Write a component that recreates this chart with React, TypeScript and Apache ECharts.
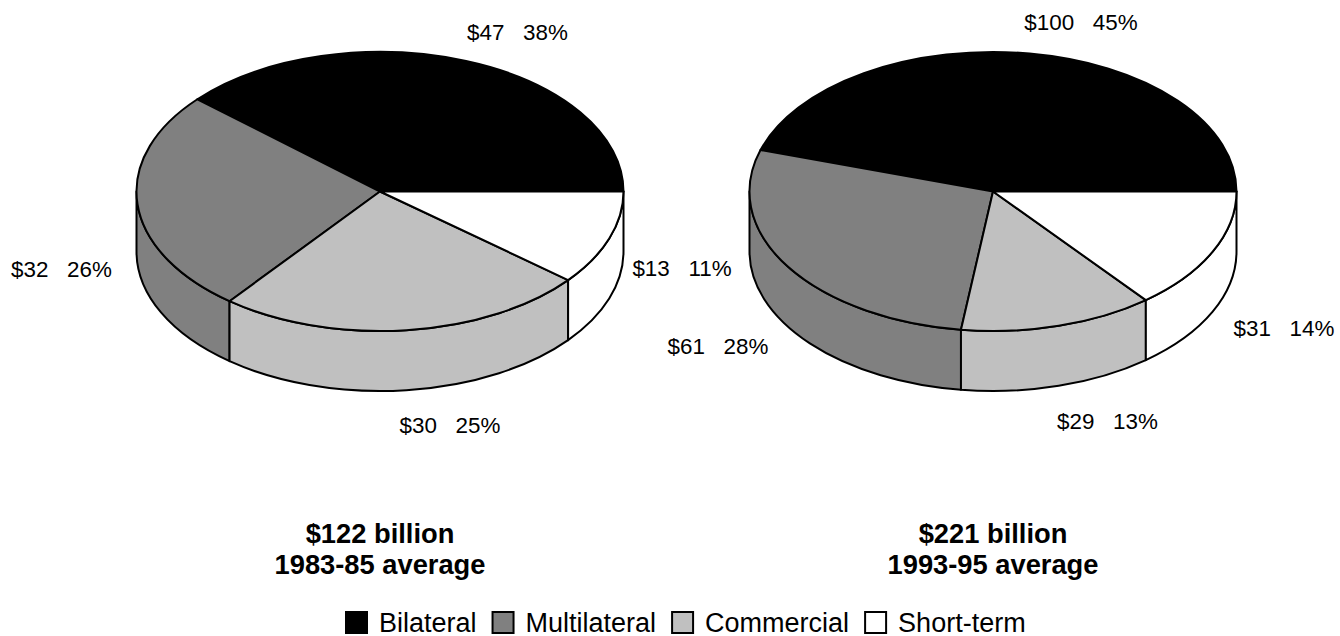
import React, { useEffect, useRef } from "react";
import * as echarts from "echarts";

const categories = ["Bilateral", "Multilateral", "Commercial", "Short-term"];
const colors = ["#000000", "#808080", "#c0c0c0", "#ffffff"];
const values1985 = [47, 32, 30, 13];
const values1995 = [100, 61, 29, 31];
const percents1985 = [38, 26, 25, 11];
const percents1995 = [45, 28, 13, 14];
const shares1985 = [38.5, 25.9, 24.65, 10.95];
const shares1995 = [45.2, 27.7, 12.9, 14.2];
const titles = ["$122 billion\n1983-85 average", "$221 billion\n1993-95 average"];
const pieValues = [values1985, values1995];
const pieShares = [shares1985, shares1995];
const piePercents = [percents1985, percents1995];

const FONT = '"Liberation Sans", Arial, sans-serif';
const RX = 243.5;
const RY = 139.5;
const DEPTH = 60;
const CENTERS = [[380, 191.5], [993, 191.5]];
const LABEL_POS = [
  [[517.5, 32], [61.5, 269], [450, 425], [682, 268]],
  [[1081, 22], [718, 346], [1107.5, 421], [1284, 328]],
];
const TITLE_X = [380, 993];

function pt(cx: number, cy: number, t: number) {
  return [cx + RX * Math.cos(t), cy - RY * Math.sin(t)];
}

function sectorPath(cx: number, cy: number, a0: number, a1: number) {
  const p0 = pt(cx, cy, a0);
  const p1 = pt(cx, cy, a1);
  const large = a1 - a0 > Math.PI ? 1 : 0;
  return `M${cx} ${cy}L${p0[0]} ${p0[1]}A${RX} ${RY} 0 ${large} 0 ${p1[0]} ${p1[1]}Z`;
}

function sidePath(cx: number, cy: number, a0: number, a1: number) {
  const s = Math.max(a0, Math.PI);
  const e = Math.min(a1, 2 * Math.PI);
  if (e <= s) return null;
  const p0 = pt(cx, cy, s);
  const p1 = pt(cx, cy, e);
  const large = e - s > Math.PI ? 1 : 0;
  return (
    `M${p0[0]} ${p0[1]}A${RX} ${RY} 0 ${large} 0 ${p1[0]} ${p1[1]}` +
    `L${p1[0]} ${p1[1] + DEPTH}A${RX} ${RY} 0 ${large} 1 ${p0[0]} ${p0[1] + DEPTH}Z`
  );
}

function buildSeries() {
  return categories.map((name, ci) => ({
    type: "custom",
    name,
    coordinateSystem: "none",
    silent: true,
    itemStyle: { color: colors[ci], borderColor: "#000", borderWidth: 2 },
    data: pieShares.map((vals, pi) => {
      const before = vals.slice(0, ci).reduce((a, b) => a + b, 0);
      const total = vals.reduce((a, b) => a + b, 0);
      return [pi, before / total, (before + vals[ci]) / total];
    }),
    renderItem: (_p: any, api: any) => {
      const [cx, cy] = CENTERS[api.value(0)];
      const a0 = api.value(1) * 2 * Math.PI;
      const a1 = api.value(2) * 2 * Math.PI;
      const style = { fill: colors[ci], stroke: "#000", lineWidth: 2, lineJoin: "round" };
      const children: any[] = [];
      const side = sidePath(cx, cy, a0, a1);
      if (side) {
        children.push({ type: "path", shape: { pathData: side }, style });
      }
      children.push({ type: "path", shape: { pathData: sectorPath(cx, cy, a0, a1) }, style });
      return { type: "group", children };
    },
  }));
}

function buildGraphic() {
  const out: any[] = [];
  pieValues.forEach((vals, pi) => {
    vals.forEach((v, i) => {
      const [x, y] = LABEL_POS[pi][i];
      out.push({
        type: "text",
        x,
        y,
        style: {
          text: `$${v}   ${piePercents[pi][i]}%`,
          font: `22.4px ${FONT}`,
          fill: "#000",
          align: "center",
          verticalAlign: "middle",
        },
      });
    });
    out.push({
      type: "text",
      x: TITLE_X[pi],
      y: 549,
      style: {
        text: titles[pi],
        font: `bold 27.3px ${FONT}`,
        lineHeight: 31,
        fill: "#000",
        align: "center",
        verticalAlign: "middle",
      },
    });
  });
  return out;
}

export default function App() {
  const ref = useRef<HTMLDivElement>(null);
  useEffect(() => {
    const chart = echarts.init(ref.current!, undefined, { renderer: "svg" });
    chart.setOption({
      animation: false,
      backgroundColor: "#fff",
      legend: {
        data: categories.map((name, i) => ({
          name,
          icon: "rect",
          itemStyle: { color: colors[i], borderColor: "#000", borderWidth: 2 },
        })),
        left: 345,
        top: 609,
        padding: 0,
        itemWidth: 21,
        itemHeight: 21,
        itemGap: 15,
        selectedMode: false,
        textStyle: { fontFamily: FONT, fontSize: 27, color: "#000", padding: [0, 0, 0, 7] },
      },
      series: buildSeries(),
      graphic: buildGraphic(),
    });
    return () => chart.dispose();
  }, []);
  return <div ref={ref} style={{ position: "fixed", left: 0, top: 0, width: 1340, height: 636 }} />;
}
